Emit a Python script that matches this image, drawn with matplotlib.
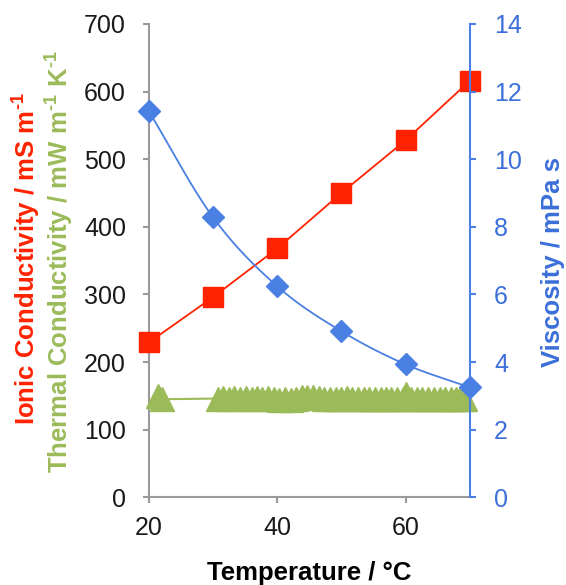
import matplotlib
matplotlib.use("Agg")
import matplotlib.pyplot as plt
import numpy as np

plt.rcParams['font.family'] = ['Liberation Sans', 'DejaVu Sans']
plt.rcParams['mathtext.fontset'] = 'custom'
plt.rcParams['mathtext.rm'] = 'Liberation Sans'
plt.rcParams['mathtext.bf'] = 'Liberation Sans:bold'

# ionic conductivity (mS m-1) and viscosity (mPa s) vs temperature
temp = [20, 30, 40, 50, 60, 70]
ionic = [229, 296, 368, 450, 528, 616]
viscosity = [11.42, 8.28, 6.24, 4.91, 3.93, 3.25]

# thermal conductivity (mW m-1 K-1), dense series
thermal_T = [21.5, 22.0, 30.7, 31.6, 32.5, 33.3, 34.2, 35.1, 36.0, 36.9, 37.7,
             38.6, 39.5, 40.3, 41.2, 42.1, 43.0, 43.8, 44.7, 45.6, 46.5, 47.3,
             48.2, 49.1, 50.0, 50.8, 51.7, 52.6, 53.5, 54.3, 55.2, 56.1, 57.0,
             57.8, 58.7, 59.6, 60.0, 60.9, 61.8, 62.6, 63.5, 64.4, 65.3, 66.1,
             67.0, 67.8, 68.5, 69.2]
thermal = [150, 145, 146, 147, 146, 147, 146, 147, 146, 147, 145,
           147, 146, 144, 146, 144, 146, 148, 148, 148, 147, 146,
           146, 146, 146, 147, 146, 145, 146, 145, 146, 145, 145,
           146, 145, 146, 153, 145, 146, 145, 145, 145, 145, 145,
           145, 145, 145, 145]

red = '#ff2200'
green = '#9bbb59'
blue = '#4a7fe3'
blue_txt = '#3b6fd9'
gray = '#9a9a9a'


def catmull_rom(x, y, n=30):
    # smooth line through the points, like excel's smoothed line
    x = np.asarray(x, float)
    y = np.asarray(y, float)
    px = np.concatenate([[2 * x[0] - x[1]], x, [2 * x[-1] - x[-2]]])
    py = np.concatenate([[2 * y[0] - y[1]], y, [2 * y[-1] - y[-2]]])
    xs, ys = [], []
    t = np.linspace(0, 1, n)
    for i in range(1, len(px) - 2):
        for p, out in ((px, xs), (py, ys)):
            p0, p1, p2, p3 = p[i - 1], p[i], p[i + 1], p[i + 2]
            out.extend(0.5 * ((2 * p1) + (-p0 + p2) * t
                              + (2 * p0 - 5 * p1 + 4 * p2 - p3) * t ** 2
                              + (-p0 + 3 * p1 - 3 * p2 + p3) * t ** 3))
    return xs, ys


fig = plt.figure(figsize=(5.66, 5.85), dpi=100)
ax = fig.add_axes([0.263, 0.150, 0.567, 0.809])
ax2 = ax.twinx()

ax.plot(thermal_T, thermal, color=green, marker='^', markersize=17,
        linewidth=1.5, linestyle='-', clip_on=False, zorder=3)
ax.plot(temp, ionic, color=red, marker='s', markersize=14, linewidth=1.3,
        clip_on=False, zorder=4)

sx, sy = catmull_rom(temp, viscosity)
ax2.plot(sx, sy, color=blue, linewidth=1.3, clip_on=False)
ax2.plot(temp, viscosity, color=blue, marker='D', linestyle='none',
         markersize=11, clip_on=False)

ax.set_xlim(20, 70)
ax.set_ylim(0, 700)
ax2.set_ylim(0, 14)
ax.set_xticks([20, 40, 60])
ax.set_yticks(range(0, 701, 100))
ax2.set_yticks(range(0, 15, 2))

ax.spines['top'].set_visible(False)
ax2.spines['top'].set_visible(False)
ax.spines['left'].set_color(gray)
ax.spines['bottom'].set_color(gray)
ax.spines['left'].set_linewidth(1.5)
ax.spines['bottom'].set_linewidth(1.5)
ax2.spines['left'].set_visible(False)
ax2.spines['bottom'].set_visible(False)
ax.spines['right'].set_visible(False)
ax2.spines['right'].set_color(blue)
ax2.spines['right'].set_linewidth(1.5)

ax.tick_params(axis='both', direction='out', length=4.5, width=1.5,
               color=gray, labelsize=18, labelcolor='#1a1a1a')
ax.tick_params(axis='y', pad=12)
ax.tick_params(axis='x', pad=9)
ax2.tick_params(axis='y', direction='out', length=4.5, width=1.5,
                color=blue, labelsize=18, labelcolor=blue_txt, pad=13)

# superscript written with a short hyphen like the original
sup = r'$^{\mathbf{\u2010 1}}$'.replace(r'\u2010 ', '\u2010')

fig.text(0.547, 0.021, 'Temperature / °C', ha='center', va='center',
         fontsize=18.5, fontweight='bold')
fig.text(0.977, 0.552, 'Viscosity / mPa s', rotation=90, ha='center',
         va='center', fontsize=18.5, fontweight='bold', color=blue_txt)
fig.text(0.046, 0.557, 'Ionic Conductivity / mS m' + sup,
         rotation=90, ha='center', va='center', fontsize=18.5,
         fontweight='bold', color=red)
fig.text(0.104, 0.552,
         'Thermal Conductivity / mW m' + sup + ' K' + sup,
         rotation=90, ha='center', va='center', fontsize=18.5,
         fontweight='bold', color=green)

fig.savefig('out.png', dpi=100)
